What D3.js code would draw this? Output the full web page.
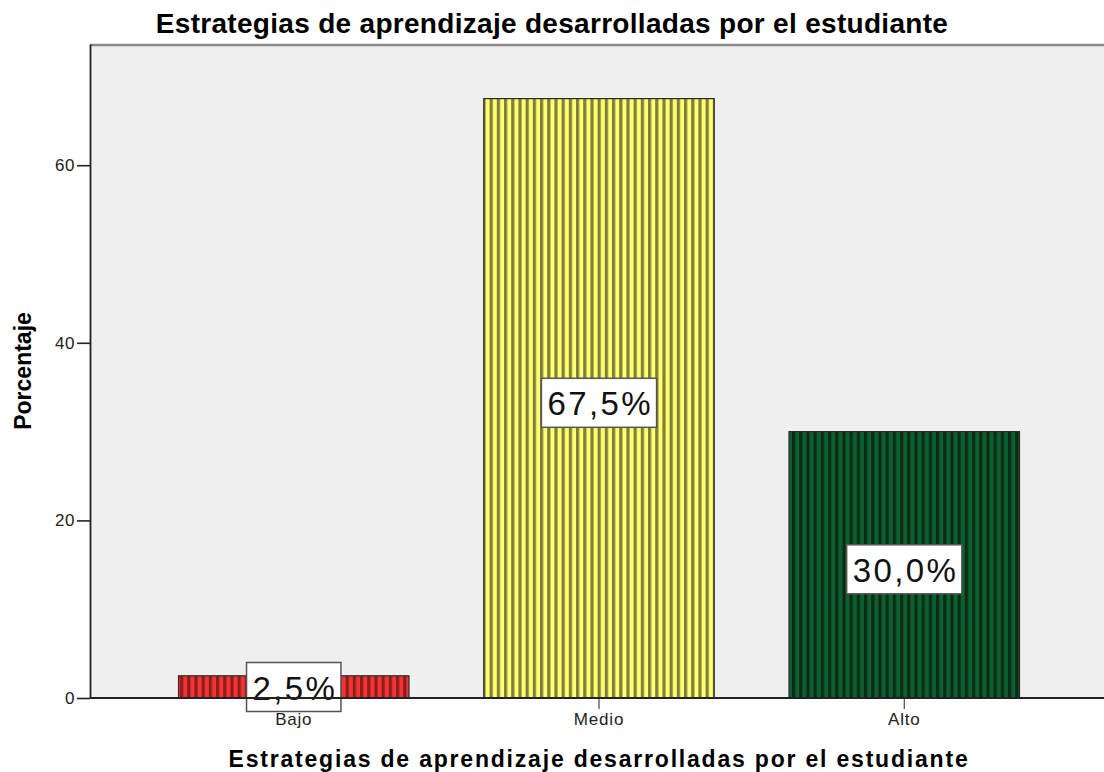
<!DOCTYPE html>
<html>
<head>
<meta charset="utf-8">
<script src="https://cdn.jsdelivr.net/npm/d3@7"></script>
<style>
	body { margin: 0; background: #fff; }
	svg { display: block; font-family: "Liberation Sans", Arial, sans-serif; }
	.axis path, .axis line { stroke: #222; }
</style>
</head>
<body>
<svg width="1104" height="772"></svg>
<script>
const categories = ['Bajo', 'Medio', 'Alto'];
const percentages = [2.5, 67.5, 30.0];
const valueLabels = ['2,5%', '67,5%', '30,0%'];
const yTicks = [0, 20, 40, 60];
const lightColors = ['#f23434', '#ffff70', '#0d5f30'];
const darkColors = ['#8f1c1c', '#7f7f3c', '#0a2c16'];
const chartTitle = 'Estrategias de aprendizaje desarrolladas por el estudiante';
const xTitle = 'Estrategias de aprendizaje desarrolladas por el estudiante';
const yTitle = 'Porcentaje';

let svg = d3.select("svg"),
		width = +svg.attr("width"),
		height = +svg.attr("height");

// plot frame (right side runs a little past the picture, like the original crop)
const plot = { left: 90, right: 1108, top: 44, bottom: 698 };

const x = d3.scaleBand()
	.domain(categories)
	.range([plot.left, plot.right])
	.paddingInner(0.245)
	.paddingOuter(0.29);

const y = d3.scaleLinear()
	.domain([0, 73.65])
	.range([plot.bottom, plot.top]);

function makePatterns() {
	const defs = svg.append("defs");
	categories.forEach(function(cat, i) {
		const p = defs.append("pattern")
			.attr("id", "stripes" + i)
			.attr("patternUnits", "userSpaceOnUse")
			.attr("width", 7.2)
			.attr("height", 10);
		p.append("rect")
			.attr("width", 7.2).attr("height", 10)
			.attr("fill", lightColors[i]);
		p.append("rect")
			.attr("x", 0).attr("width", 3.2).attr("height", 10)
			.attr("fill", darkColors[i]);
	});
}

// label box centre: middle of the bar, kept clear of the category labels
function labelCenter(d) {
	return Math.min(y(d / 2) + 4.5, plot.bottom - 11);
}

function drawChart() {
	makePatterns();

	svg.append("rect")
		.attr("x", plot.left)
		.attr("y", plot.top)
		.attr("width", plot.right - plot.left)
		.attr("height", plot.bottom - plot.top)
		.attr("fill", "#efefef");

	svg.append("line")
		.attr("x1", plot.left).attr("x2", width)
		.attr("y1", plot.top + 1).attr("y2", plot.top + 1)
		.attr("stroke", "#888").attr("stroke-width", 2.5);

	// x ticks first so the Bajo label box can cover its tick
	const xAxis = svg.append("g")
		.attr("class", "axis")
		.attr("transform", "translate(0," + plot.bottom + ")")
		.call(d3.axisBottom(x).tickSize(11).tickPadding(4).tickSizeOuter(0));
	xAxis.select(".domain").remove();
	xAxis.selectAll("text")
		.attr("font-size", 17)
		.attr("letter-spacing", 0.8)
		.attr("fill", "#222")
		.attr("font-family", "Liberation Sans, Arial, sans-serif");

	svg.append("g")
		.selectAll("rect")
		.data(percentages)
		.enter().append("rect")
			.attr("x", (d, i) => x(categories[i]))
			.attr("y", d => y(d))
			.attr("width", x.bandwidth())
			.attr("height", d => y(0) - y(d))
			.attr("fill", (d, i) => "url(#stripes" + i + ")")
			.attr("stroke", "#2a2a2a")
			.attr("stroke-width", 1.2);

	// value labels with white boxes
	const labels = svg.append("g")
		.selectAll("g")
		.data(percentages)
		.enter().append("g");

	labels.append("rect").attr("class", "box");
	labels.append("text")
		.attr("x", (d, i) => x(categories[i]) + x.bandwidth() / 2 + 1.2)
		.attr("y", d => labelCenter(d) + 12.5)
		.attr("text-anchor", "middle")
		.attr("font-size", 33)
		.attr("letter-spacing", 2.4)
		.attr("fill", "#111")
		.text((d, i) => valueLabels[i]);

	labels.each(function(d, i) {
		const g = d3.select(this);
		const w = g.select("text").node().getComputedTextLength() - 2.4 + 12;
		const cx = x(categories[i]) + x.bandwidth() / 2;
		g.select("rect.box")
			.attr("x", cx - w / 2)
			.attr("y", labelCenter(d) - 24.5)
			.attr("width", w)
			.attr("height", 49)
			.attr("fill", "#fff")
			.attr("stroke", "#555")
			.attr("stroke-width", 1.5);
	});

	// baseline and y axis drawn over everything
	svg.append("line")
		.attr("x1", plot.left).attr("x2", width)
		.attr("y1", plot.bottom).attr("y2", plot.bottom)
		.attr("stroke", "#222").attr("stroke-width", 1.8);

	const yAxis = svg.append("g")
		.attr("class", "axis")
		.attr("transform", "translate(" + plot.left + ",0)")
		.call(d3.axisLeft(y).tickValues(yTicks).tickSize(13).tickPadding(2).tickSizeOuter(0));
	yAxis.select(".domain").attr("stroke-width", 1.8);
	yAxis.selectAll(".tick line").attr("stroke-width", 1.6);
	yAxis.selectAll("text")
		.attr("font-size", 17)
		.attr("letter-spacing", 0.6)
		.attr("fill", "#222")
		.attr("font-family", "Liberation Sans, Arial, sans-serif");

	svg.append("text")
		.attr("x", 552)
		.attr("y", 33)
		.attr("text-anchor", "middle")
		.attr("font-size", 28)
		.attr("font-weight", "bold")
		.attr("letter-spacing", 0.3)
		.text(chartTitle);

	svg.append("text")
		.attr("x", 599)
		.attr("y", 767)
		.attr("text-anchor", "middle")
		.attr("font-size", 23)
		.attr("font-weight", "bold")
		.attr("letter-spacing", 1.8)
		.text(xTitle);

	svg.append("text")
		.attr("transform", "translate(31,371) rotate(-90)")
		.attr("text-anchor", "middle")
		.attr("font-size", 23)
		.attr("font-weight", "bold")
		.text(yTitle);
}

drawChart();
</script>
</body>
</html>
